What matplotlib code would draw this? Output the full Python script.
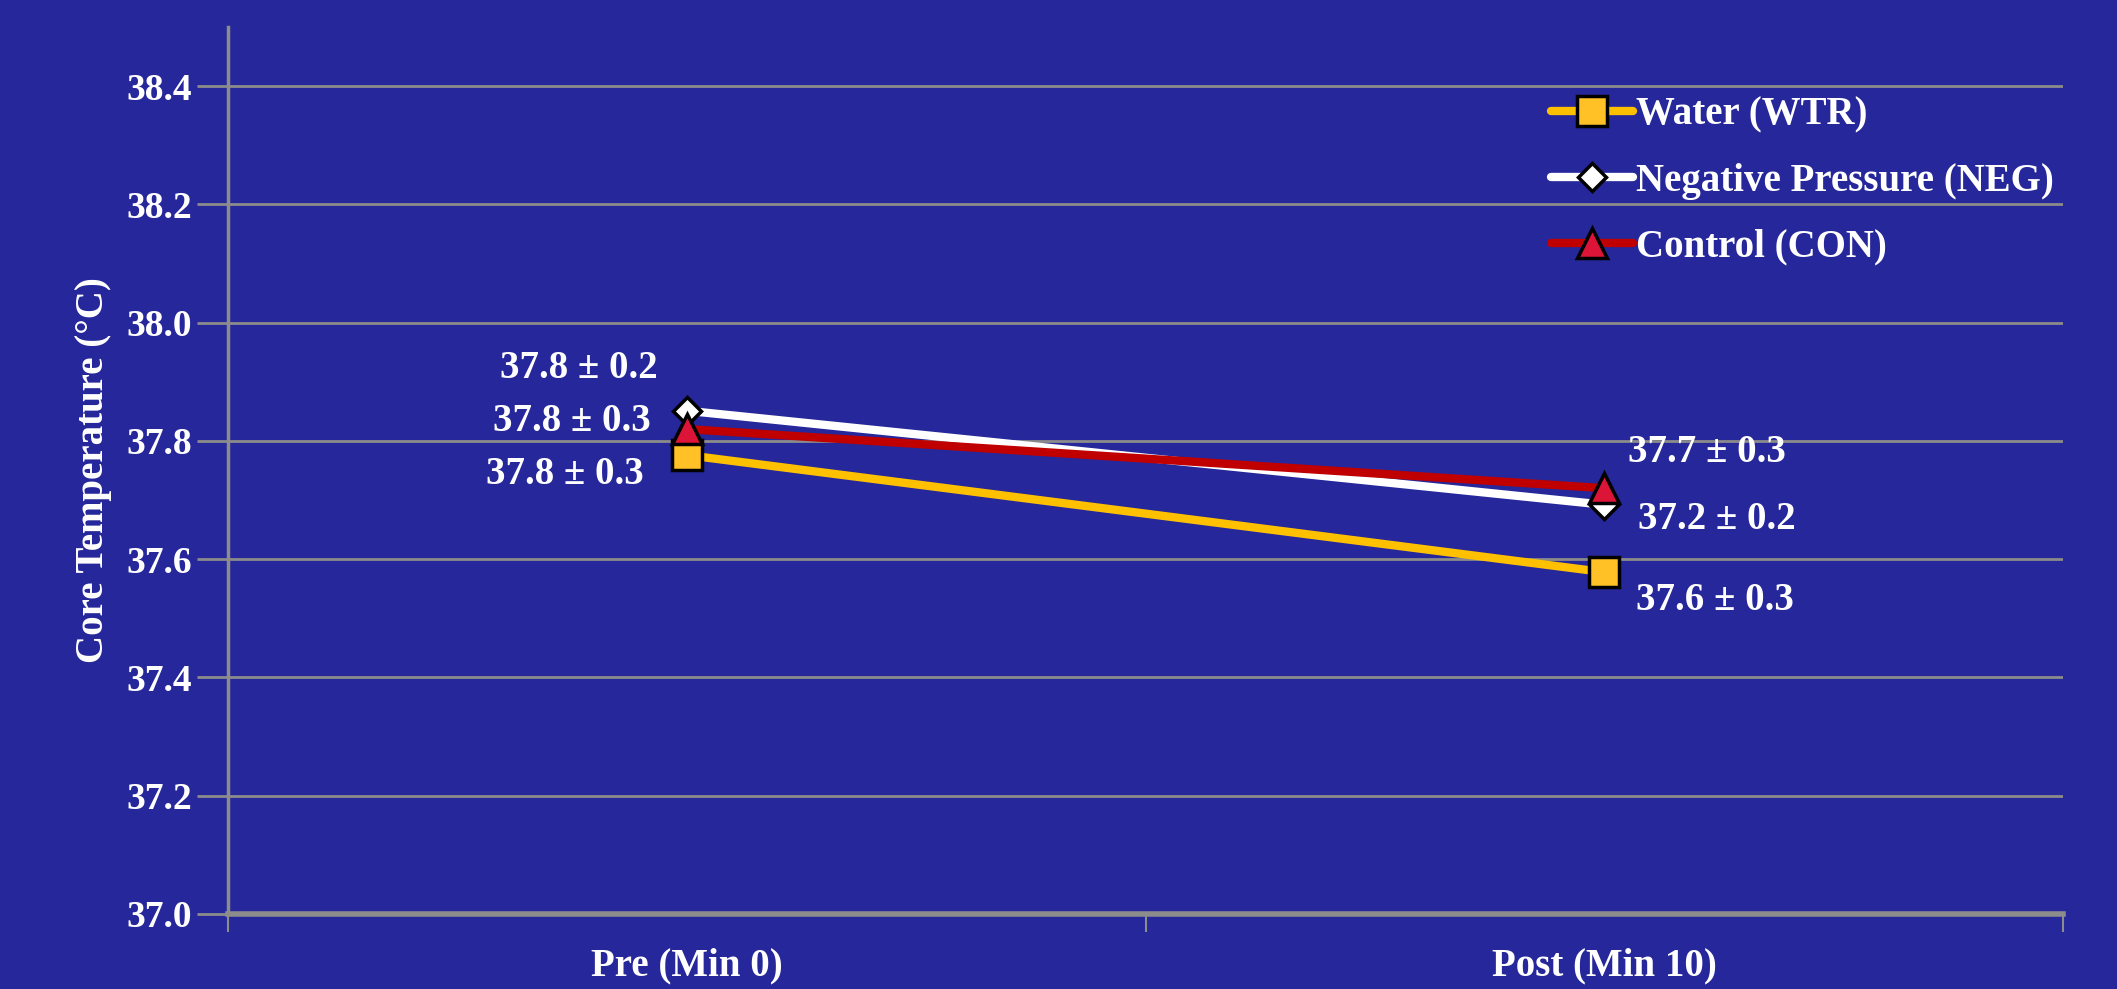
import matplotlib.pyplot as plt
from matplotlib.ticker import FixedLocator, NullFormatter

# Data
phases = ["Pre (Min 0)", "Post (Min 10)"]
series_names = ["Water (WTR)", "Negative Pressure (NEG)", "Control (CON)"]
wtr = [37.776, 37.578]
neg = [37.851, 37.692]
con = [37.820, 37.720]
# text shown next to each point
wtr_labels = ["37.8 ± 0.3", "37.6 ± 0.3"]
neg_labels = ["37.8 ± 0.2", "37.2 ± 0.2"]
con_labels = ["37.8 ± 0.3", "37.7 ± 0.3"]
yticks = [37.0, 37.2, 37.4, 37.6, 37.8, 38.0, 38.2, 38.4]

bg = "#25279A"
grid_c = "#8C8C8C"
plt.rcParams["font.family"] = ["Liberation Serif", "DejaVu Serif"]
plt.rcParams["font.weight"] = "bold"

fig = plt.figure(figsize=(21.17, 9.89), dpi=100)
fig.patch.set_facecolor(bg)
ax = fig.add_axes([0.1077, 0.0759, 0.8668, 0.8968])
ax.set_facecolor(bg)

x = list(range(len(phases)))
styles = [
    (wtr, "#FFC000", "s", "#FFC125", 21),
    (neg, "#FFFFFF", "D", "#FFFFFF", 14),
    (con, "#C00000", "^", "#DC1437", 21),
]
for (vals, lc, mk, mf, ms), name in zip(styles, series_names):
    ax.plot(x, vals, color=lc, lw=6, marker=mk, ms=ms, mfc=mf, mec="black",
            mew=2.5, label=name, solid_capstyle="round", zorder=3)

# value labels (offsets in pixels from the points)
offsets = {
    "wtr": [(-122, -19), (111, -28)],
    "neg": [(-108, 42), (113, -15)],
    "con": [(-115, 8), (103, 36)],
}
for key, vals, labs in [("wtr", wtr, wtr_labels), ("neg", neg, neg_labels), ("con", con, con_labels)]:
    for i, (v, t) in enumerate(zip(vals, labs)):
        ax.annotate(t, (x[i], v), xytext=offsets[key][i], textcoords="offset pixels",
                    ha="center", va="center", color="white", fontsize=28,
                    fontweight="bold", zorder=5)

ax.set_xlim(-0.5, 1.5)
ax.set_ylim(37.0, 38.5)
ax.set_yticks(yticks)
ax.set_yticklabels([f"{t:.1f}" for t in yticks])
ax.set_xticks(x)
ax.set_xticklabels(phases)
ax.xaxis.set_minor_locator(FixedLocator([-0.5, 0.5, 1.5]))
ax.xaxis.set_minor_formatter(NullFormatter())
ax.tick_params(axis="x", which="major", length=0, pad=24, labelsize=28, labelcolor="white")
ax.tick_params(axis="x", which="minor", length=13, width=1.5, color=grid_c)
ax.tick_params(axis="y", length=22, width=2, color=grid_c, pad=4, labelsize=27, labelcolor="white")
for lab in ax.get_xticklabels() + ax.get_yticklabels():
    lab.set_fontweight("bold")

ax.grid(axis="y", color=grid_c, lw=2, zorder=0)
ax.set_axisbelow(True)
for s in ["top", "right"]:
    ax.spines[s].set_visible(False)
ax.spines["left"].set_color(grid_c)
ax.spines["left"].set_linewidth(2.5)
ax.spines["bottom"].set_color(grid_c)
ax.spines["bottom"].set_linewidth(4)

ax.set_ylabel("Core Temperature (°C)", color="white", fontsize=28, fontweight="bold", labelpad=10)

leg = ax.legend(loc="upper right", bbox_to_anchor=(1.008, 0.948), frameon=False,
                fontsize=28, labelspacing=0.75, handlelength=2.1, handletextpad=0.1,
                borderaxespad=0.2)
for t in leg.get_texts():
    t.set_color("white")
    t.set_fontweight("bold")

fig.savefig("out.png", dpi=100, facecolor=bg)
